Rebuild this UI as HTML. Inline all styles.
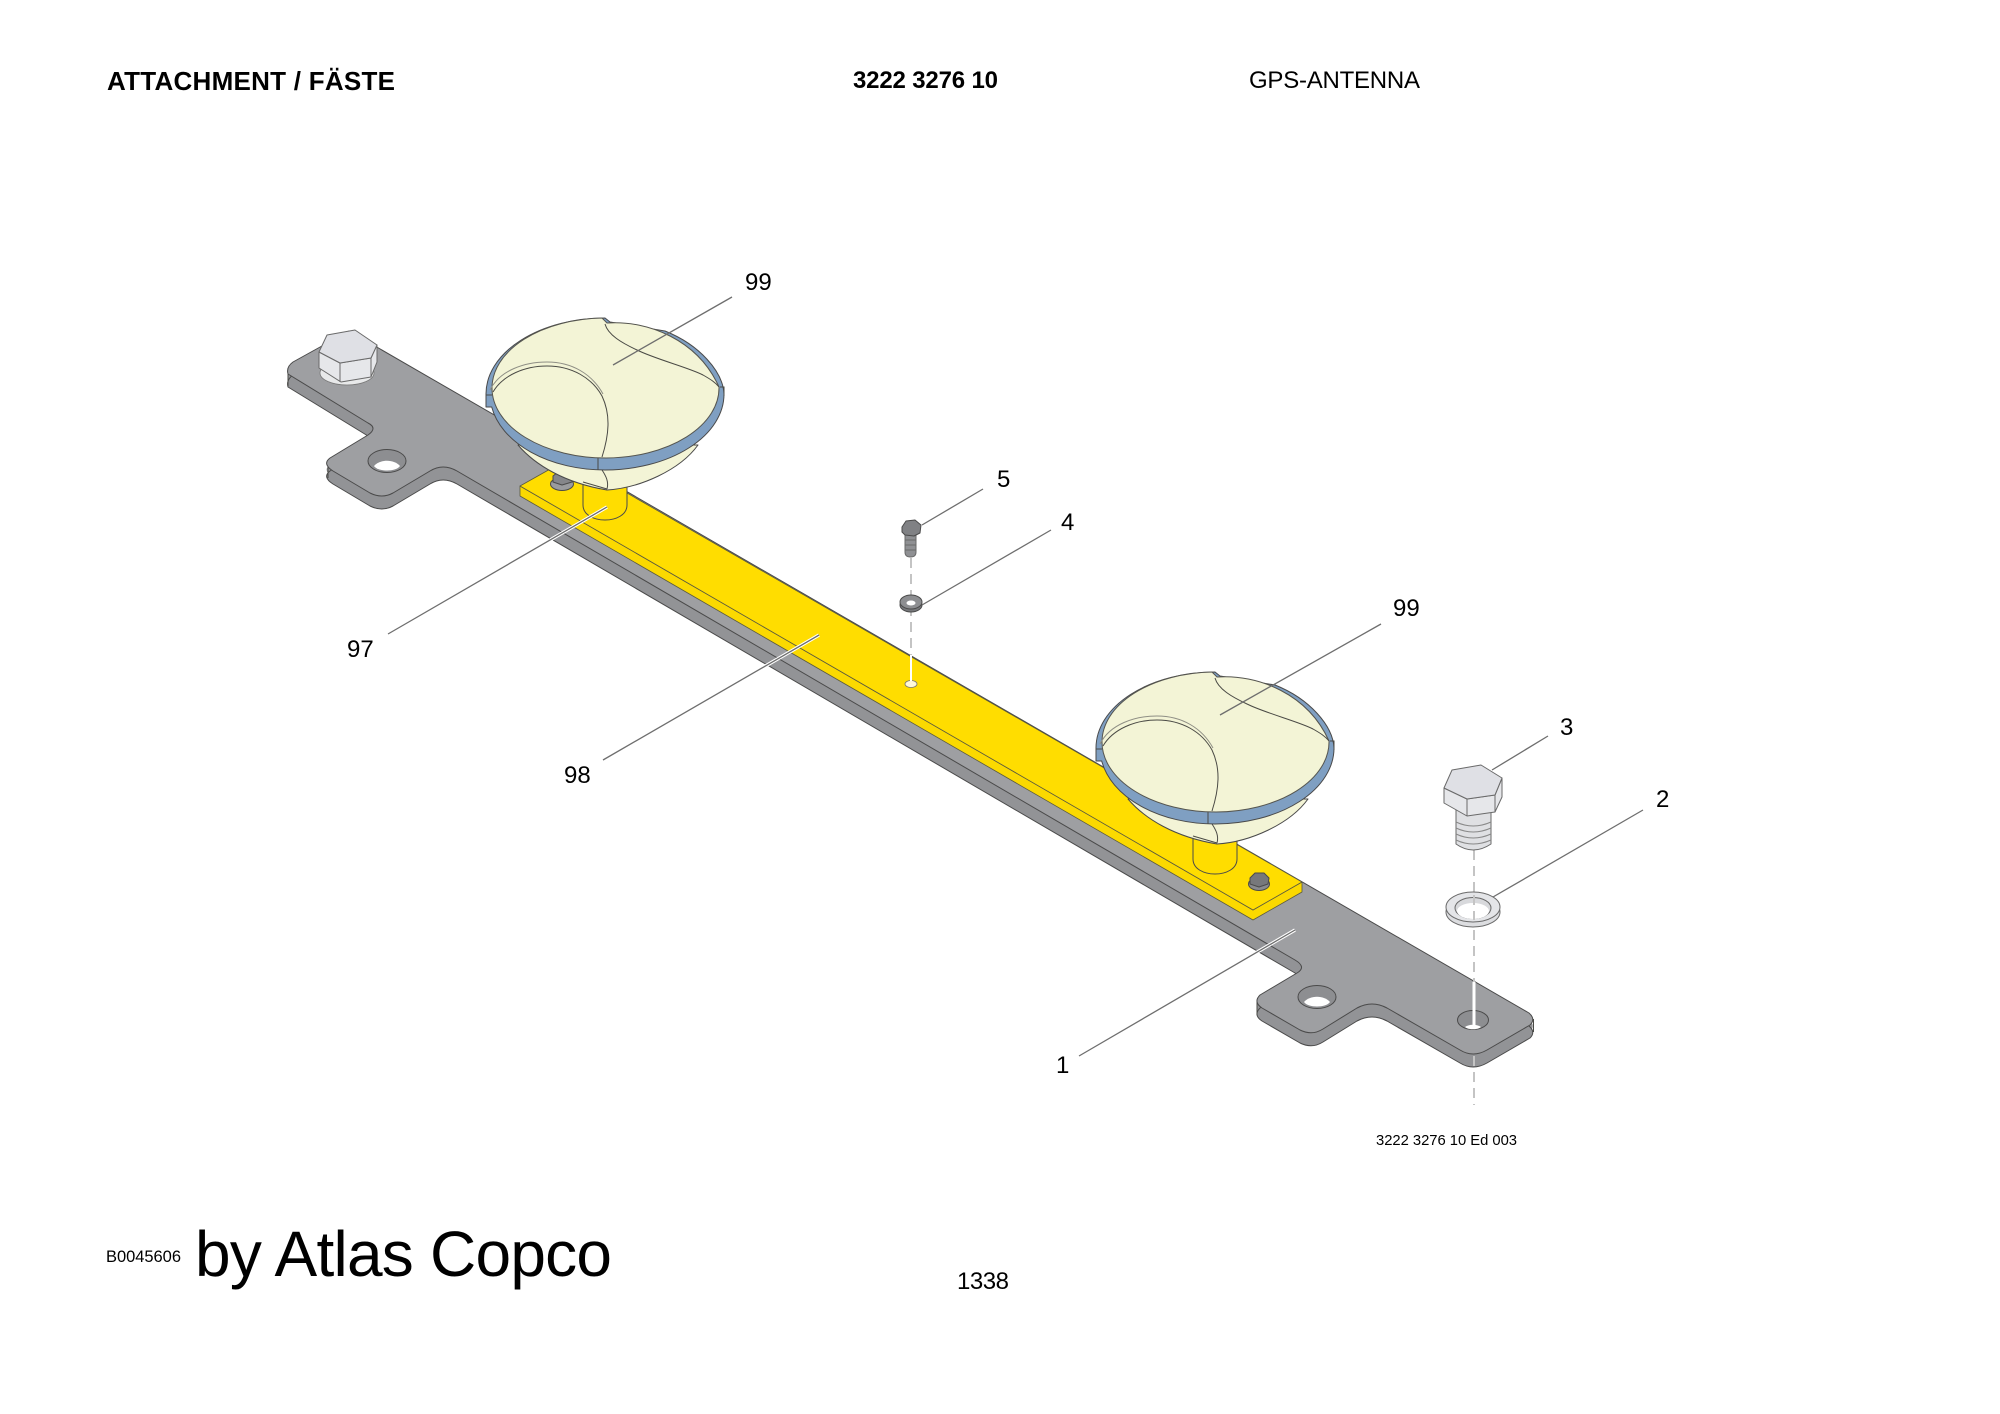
<!DOCTYPE html>
<html><head><meta charset="utf-8"><style>
html,body{margin:0;padding:0;background:#fff}
svg{display:block}
text{font-family:"Liberation Sans",sans-serif;fill:#000}
.o{stroke:#4a4a4a;stroke-width:1;stroke-linejoin:round}
.y{stroke:#5a5a40;stroke-width:.8;stroke-linejoin:round}
.b{stroke:#6a6a6a;stroke-width:1;stroke-linejoin:round}
.t{fill:none;stroke:#4a4a45;stroke-width:1}
.l{fill:none;stroke:#6e6e6e;stroke-width:1.3}
.h{fill:none;stroke:#fff;stroke-width:3.4}
.d{fill:none;stroke:#c4c4c4;stroke-width:2;stroke-dasharray:10 6}
</style></head><body>
<svg width="2000" height="1414" viewBox="0 0 2000 1414" xmlns="http://www.w3.org/2000/svg">
<rect width="2000" height="1414" fill="#fff"/>
<text x="107" y="90" font-size="26" font-weight="700" textLength="288">ATTACHMENT / FÄSTE</text>
<text x="853" y="88" font-size="24" font-weight="700" textLength="145">3222 3276 10</text>
<text x="1249" y="88" font-size="24" textLength="171">GPS-ANTENNA</text>

<!-- plate side -->
<path fill="#929396" transform="translate(0,6.500)" d="M288,374 Q286,367 293,362 L349,331 L1529,1013 Q1536,1019 1530,1025 L1487,1050 Q1473,1058 1460,1050 L1387,1008 Q1372,1000 1357,1008 L1323,1029 Q1312,1036 1300,1030 L1262,1008 Q1253,1002 1260,995 L1297,973 Q1307,967 1295,960 L457,471 Q443,463 430,471 L393,493 Q382,499 370,493 L333,471 Q322,464 330,458 L368,435 Q378,428 368,423 Z"/>
<path class="o" fill="#929396" transform="translate(0,13)" d="M288,374 Q286,367 293,362 L349,331 L1529,1013 Q1536,1019 1530,1025 L1487,1050 Q1473,1058 1460,1050 L1387,1008 Q1372,1000 1357,1008 L1323,1029 Q1312,1036 1300,1030 L1262,1008 Q1253,1002 1260,995 L1297,973 Q1307,967 1295,960 L457,471 Q443,463 430,471 L393,493 Q382,499 370,493 L333,471 Q322,464 330,458 L368,435 Q378,428 368,423 Z"/>
<path class="t" d="M288,372 V386 M328,464 V478 M1257,1002 V1015 M1533.500,1019 V1032"/>
<!-- plate top -->
<path class="o" fill="#9e9fa2" d="M288,374 Q286,367 293,362 L349,331 L1529,1013 Q1536,1019 1530,1025 L1487,1050 Q1473,1058 1460,1050 L1387,1008 Q1372,1000 1357,1008 L1323,1029 Q1312,1036 1300,1030 L1262,1008 Q1253,1002 1260,995 L1297,973 Q1307,967 1295,960 L457,471 Q443,463 430,471 L393,493 Q382,499 370,493 L333,471 Q322,464 330,458 L368,435 Q378,428 368,423 Z"/>
<!-- holes -->
<ellipse class="o" cx="387" cy="461" rx="19" ry="11.500" fill="#8d8e91"/>
<path fill="#fff" d="M374,466 C380,459 394,459 400,466 C396,472 378,472 374,466Z"/>
<ellipse class="o" cx="1317" cy="997" rx="19" ry="11.500" fill="#8d8e91"/>
<path fill="#fff" d="M1304,1002 C1310,995 1324,995 1330,1002 C1326,1008 1308,1008 1304,1002Z"/>
<ellipse class="o" cx="1473" cy="1020" rx="15.500" ry="9.500" fill="#8d8e91"/>
<path fill="#fff" d="M1465,1027 C1469,1024 1477,1024 1481,1027 C1478,1030 1468,1030 1465,1027Z"/>

<!-- left bolt -->
<ellipse cx="347" cy="373" rx="27" ry="12" fill="#e8e9ea" stroke="#777" stroke-width=".8"/>
<path class="b" fill="#e6e7ea" d="M319,352 L319,368 L341,382 L371,377 L377,362 L377,345 L371,358 L340,363 Z"/>
<path class="b" fill="none" d="M340,363 V382 M371,358 V377"/>
<path class="b" fill="#dfe0e5" d="M327,335 L355,330 L377,345 L371,358 L340,363 L319,352 Z"/>

<!-- yellow bar -->
<polygon class="y" fill="#fbd900" points="520,486 520,496 1253,920 1302,892 1302,882 1253,910"/>
<polygon class="y" fill="#ffdd00" points="520,486 568,459 1302,882 1253,910"/>
<ellipse cx="911" cy="684" rx="6" ry="3.500" fill="#fff8d8" stroke="#777" stroke-width=".8"/>

<!-- small bolts on bar -->
<ellipse class="o" cx="562" cy="484" rx="11.500" ry="6.500" fill="#9a9b9e"/>
<polygon class="o" fill="#85868a" points="553,476 558,472 568,472 573,476 572,482 562,485 553,482"/>
<ellipse class="o" cx="1259" cy="884" rx="10.500" ry="6.500" fill="#8a8b8e"/>
<polygon class="o" fill="#77787b" points="1250,878 1255,873 1264,873 1269,878 1268,884 1259,887 1250,884"/>

<!-- dome left -->
<g>
<path class="o" fill="#ffdd00" d="M583,478 L583,505 C583,525 627,525 627,505 L627,478 Z"/>
<path class="o" fill="#f3f4d6" d="M518,445 C535,465 565,483 607,490 C640,488 680,470 698,445 Z"/>
<path class="t" d="M602,470 C606,476 609,482 607,489 M583,482 L607,489"/>
<path class="o" fill="#7f9fc2" d="M724,394 C723,372 700,345 665,331 L610,322 L605,318 A119,76 0 0 0 486,394 L486,407 L491.700,407 A115,76 0 0 0 605,470 A119,76 0 0 0 724,394 Z"/>
<path class="t" d="M598,457 V470 M720,387 H724 V396 M486,395 H492"/>
<path fill="#f3f4d6" stroke="#55554f" stroke-width="1" d="M492,388 A114,70 0 0 1 602,318 L607,323 C648,320 698,340 719,387 A114,70 0 0 1 606,458 A114,70 0 0 1 492,388 Z"/>
<path class="t" d="M605,324 C608,335 622,343 637,350 C655,359 690,368 703,375 C710,379 715,382 719,387"/>
<path class="t" d="M493,392 C503,375 525,366 547,366 C572,366 592,378 602,396 C611,415 609,435 602,457"/>
<path fill="none" stroke="#8e8e84" stroke-width="1" d="M490,390 C500,370 525,362 547,362 C572,362 592,374 603,394"/>
</g>
<!-- dome right -->
<g transform="translate(610,354)">
<path class="o" fill="#ffdd00" d="M583,478 L583,505 C583,525 627,525 627,505 L627,478 Z"/>
<path class="o" fill="#f3f4d6" d="M518,445 C535,465 565,483 607,490 C640,488 680,470 698,445 Z"/>
<path class="t" d="M602,470 C606,476 609,482 607,489 M583,482 L607,489"/>
<path class="o" fill="#7f9fc2" d="M724,394 C723,372 700,345 665,331 L610,322 L605,318 A119,76 0 0 0 486,394 L486,407 L491.700,407 A115,76 0 0 0 605,470 A119,76 0 0 0 724,394 Z"/>
<path class="t" d="M598,457 V470 M720,387 H724 V396 M486,395 H492"/>
<path fill="#f3f4d6" stroke="#55554f" stroke-width="1" d="M492,388 A114,70 0 0 1 602,318 L607,323 C648,320 698,340 719,387 A114,70 0 0 1 606,458 A114,70 0 0 1 492,388 Z"/>
<path class="t" d="M605,324 C608,335 622,343 637,350 C655,359 690,368 703,375 C710,379 715,382 719,387"/>
<path class="t" d="M493,392 C503,375 525,366 547,366 C572,366 592,378 602,396 C611,415 609,435 602,457"/>
<path fill="none" stroke="#8e8e84" stroke-width="1" d="M490,390 C500,370 525,362 547,362 C572,362 592,374 603,394"/>
</g>

<!-- dashed axes -->
<line class="d" x1="911" y1="558" x2="911" y2="656"/>
<line x1="911" y1="655" x2="911" y2="681" stroke="#fff" stroke-width="2"/>
<line class="d" x1="1474" y1="850" x2="1474" y2="982"/>
<line x1="1474" y1="982" x2="1474" y2="1027" stroke="#fff" stroke-width="3"/>
<line class="d" x1="1474" y1="1056" x2="1474" y2="1105"/>

<!-- bolt 5 -->
<path class="b" fill="#8f9093" d="M905,533 H916 V552 Q916,557 910.500,557 Q905,557 905,552 Z"/>
<path class="b" fill="none" d="M905,540 H916 M905,545 H916 M905,550 H916"/>
<polygon class="o" fill="#808184" points="902,527 906,521 915,520 921,525 920,533 914,536 905,535 902,532"/>
<!-- washer 4 -->
<ellipse class="o" cx="911" cy="605" rx="11" ry="7" fill="#77787b"/>
<ellipse class="o" cx="911" cy="602" rx="11" ry="7" fill="#8d8e91"/>
<ellipse cx="911" cy="603" rx="4.500" ry="2.500" fill="#fff"/>

<!-- bolt 3 -->
<path class="b" fill="#dfe0e3" d="M1456,808 V844 Q1473,856 1491,844 V808 Z"/>
<path fill="none" stroke="#888" stroke-width="1" d="M1456,822 Q1473,830 1491,822 M1456,828 Q1473,836 1491,828 M1456,834 Q1473,842 1491,834 M1456,840 Q1473,848 1491,840"/>
<path class="b" fill="#e6e7ea" d="M1444,788 L1444,803 L1467,816 L1495,812 L1502,797 L1502,778 L1495,795 L1467,799 Z"/>
<path class="b" fill="none" d="M1467,799 V816 M1495,795 V812"/>
<polygon class="b" fill="#dfe0e5" points="1452,770 1481,765 1502,778 1495,795 1467,799 1444,788"/>

<!-- washer 2 -->
<ellipse class="b" cx="1473" cy="912" rx="27" ry="15" fill="#dcdde0"/>
<ellipse class="b" cx="1473" cy="907" rx="27" ry="15" fill="#e4e5e8"/>
<ellipse class="b" cx="1473" cy="908" rx="18" ry="10.500" fill="#d8d9dc"/>
<ellipse cx="1473" cy="911" rx="16" ry="8" fill="#fff"/>
<line x1="1474" y1="895" x2="1474" y2="920" stroke="#c4c4c4" stroke-width="2" stroke-dasharray="10 6"/>

<!-- leaders -->
<line class="l" x1="732" y1="297" x2="613" y2="365"/>
<line class="l" x1="1381" y1="624" x2="1220" y2="715"/>
<line class="h" x1="388" y1="634" x2="607" y2="507"/>
<line class="l" x1="388" y1="634" x2="607" y2="507"/>
<line class="h" x1="603" y1="760" x2="819" y2="635"/>
<line class="l" x1="603" y1="760" x2="819" y2="635"/>
<line class="l" x1="983" y1="489" x2="922" y2="525"/>
<line class="l" x1="1051" y1="530" x2="922" y2="605"/>
<line class="l" x1="1548" y1="736" x2="1492" y2="770"/>
<line class="l" x1="1643" y1="810" x2="1493" y2="897"/>
<line class="h" x1="1079" y1="1056" x2="1295" y2="930"/>
<line class="l" x1="1079" y1="1056" x2="1295" y2="930"/>

<!-- labels -->
<text x="745" y="290" font-size="24">99</text>
<text x="997" y="487" font-size="24">5</text>
<text x="1061" y="530" font-size="24">4</text>
<text x="1393" y="616" font-size="24">99</text>
<text x="1560" y="735" font-size="24">3</text>
<text x="1656" y="807" font-size="24">2</text>
<text x="1056" y="1073" font-size="24">1</text>
<text x="347" y="657" font-size="24">97</text>
<text x="564" y="783" font-size="24">98</text>

<text x="1376" y="1145" font-size="14.800" textLength="141">3222 3276 10 Ed 003</text>
<text x="106" y="1262" font-size="16.500" textLength="75">B0045606</text>
<text x="195" y="1276" font-size="64" textLength="417">by Atlas Copco</text>
<text x="957" y="1289" font-size="24" textLength="52">1338</text>
</svg>
</body></html>
